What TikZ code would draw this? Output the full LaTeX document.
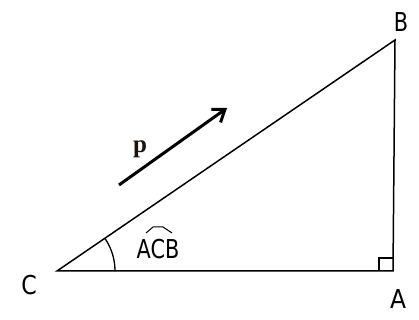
\documentclass[tikz,border=0pt]{standalone}
\usepackage{fontspec}
\setmainfont{DejaVu Sans}
\newfontfamily\pfont{Liberation Serif}
\usetikzlibrary{arrows.meta}
\begin{document}
\begin{tikzpicture}[x=1pt,y=1pt,
  side/.style={line width=1.5pt,black},
  lab/.style={inner sep=0pt,font=\fontsize{26}{26}\selectfont},
  vec/.style={line width=3pt,-{Straight Barb[length=11pt,width=16pt,line width=3pt]}}]
\useasboundingbox (0,0) rectangle (419,320);
\coordinate (C) at (57,49);
\coordinate (A) at (393,49);
\coordinate (B) at (395,280);
\draw[side] (C) -- (A) -- (B) -- cycle;
% right angle
\draw[line width=1.3pt] (379,49) -- (379,62) -- (393,62);
% angle arc
\draw[line width=1.3pt] ([shift={(0:58)}]C) arc[start angle=0,end angle=34.3,radius=58];
% labels
\node[lab,xscale=0.8] (lB) at (401,298) {B};
\node[lab,xscale=0.9] (lA) at (398,21) {A};
\node[lab,xscale=0.85] (lC) at (29,35) {C};
\node[lab,xscale=0.8] (acb) at (158,71) {ACB};
\draw[line width=1pt] (146,87) -- (153,93) -- (163,93) -- (172,87);
% vector p
\coordinate (p0) at (119,135);
\coordinate (p1) at (227,212);
\draw[vec] (p0) -- (p1);
\node[inner sep=0pt,font=\fontsize{25}{25}\selectfont\pfont\bfseries,text=black!85!brown] (p) at (140,171) {p};
\end{tikzpicture}
\end{document}
